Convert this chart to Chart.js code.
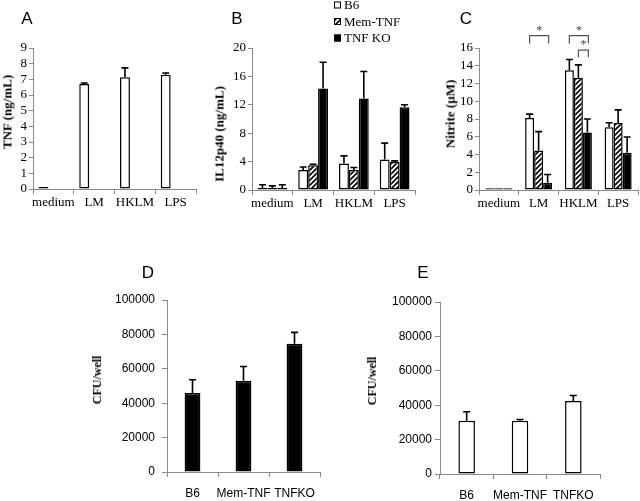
<!DOCTYPE html>
<html><head><meta charset="utf-8">
<script src="https://cdn.jsdelivr.net/npm/chart.js@4.4.0/dist/chart.umd.min.js"></script>
<style>
html,body{margin:0;padding:0;background:#fff;}
#wrap{position:relative;width:640px;height:501px;overflow:hidden;background:#fff;}
canvas{position:absolute;}
.letter{position:absolute;font-family:"Liberation Sans",Arial,sans-serif;font-size:17px;color:#000;transform:translate(-50%,-50%);line-height:1;}
.ytitle{position:absolute;font-family:"Liberation Serif","Times New Roman",serif;font-weight:bold;color:#000;white-space:nowrap;transform:translate(-50%,-50%) rotate(-90deg);line-height:1;}
</style></head><body>
<div id="wrap">
<canvas id="cA" width="205" height="250" style="left:0px;top:0px;"></canvas>
<canvas id="cB" width="215" height="250" style="left:205px;top:0px;"></canvas>
<canvas id="cC" width="220" height="250" style="left:420px;top:0px;"></canvas>
<canvas id="cD" width="270" height="246" style="left:60px;top:255px;"></canvas>
<canvas id="cE" width="300" height="246" style="left:340px;top:255px;"></canvas>
<div class="letter" style="left:27px;top:18px;">A</div>
<div class="letter" style="left:237px;top:18px;">B</div>
<div class="letter" style="left:466px;top:18px;">C</div>
<div class="letter" style="left:148px;top:272px;">D</div>
<div class="letter" style="left:423px;top:272px;">E</div>
<div class="ytitle" style="left:7px;top:112px;font-size:13px;">TNF (ng/mL)</div>
<div class="ytitle" style="left:219px;top:134px;font-size:13px;">IL12p40 (ng/mL)</div>
<div class="ytitle" style="left:450px;top:114px;font-size:13px;">Nitrite (µM)</div>
<div class="ytitle" style="left:97px;top:380px;font-size:12px;">CFU/well</div>
<div class="ytitle" style="left:372px;top:381px;font-size:12px;">CFU/well</div>
</div>
<script>
// ---------- data ----------
const categories = ['medium', 'LM', 'HKLM', 'LPS'];
const seriesNames = ['B6', 'Mem-TNF', 'TNF KO'];

// Panel A: TNF (ng/mL), B6 only
const tnfB6 = [0.12, 6.7, 7.13, 7.3];
const tnfB6Err = [0, 0.07, 0.6, 0.1];

// Panel B: IL12p40 (ng/mL)
const il12B6 = [0.28, 2.83, 3.73, 4.3];
const il12B6Err = [0.45, 0.4, 1.07, 2.3];
const il12Mem = [0.28, 3.49, 2.83, 3.96];
const il12MemErr = [0.3, 0.14, 0.33, 0.14];
const il12KO = [0.28, 14.3, 12.9, 11.65];
const il12KOErr = [0.45, 3.7, 3.8, 0.35];

// Panel C: Nitrite (uM)
const nitB6 = [0.2, 8.1, 13.5, 7.06];
const nitB6Err = [0, 0.45, 1.2, 0.52];
const nitMem = [0.2, 4.46, 12.64, 7.55];
const nitMemErr = [0, 2.12, 1.46, 1.48];
const nitKO = [0.2, 0.82, 6.47, 4.2];
const nitKOErr = [0, 0.93, 1.53, 1.78];
// significance brackets: category index, from series, to series, bracket level (uM)
const nitBrackets = [
  {cat: 1, from: 0, to: 2, level: 17.4, leg: 16.5},
  {cat: 2, from: 0, to: 2, level: 17.4, leg: 16.5},
  {cat: 2, from: 1, to: 2, level: 15.75, leg: 14.95}
];

// Panels D/E: CFU/well
const strains = ['B6', 'Mem-TNF', 'TNFKO'];
const cfuD = [46000, 53000, 74500];
const cfuDErr = [7600, 8300, 6700];
const cfuE = [31000, 31000, 42400];
const cfuEErr = [5200, 700, 3200];

// ---------- styles ----------
function hatch() {
  const c = document.createElement('canvas');
  c.width = 5; c.height = 5;
  const g = c.getContext('2d');
  g.fillStyle = '#fff'; g.fillRect(0, 0, 5, 5);
  g.strokeStyle = '#000'; g.lineWidth = 1.7;
  g.beginPath();
  g.moveTo(-1, 6); g.lineTo(6, -1);
  g.moveTo(-1, 1); g.lineTo(1, -1);
  g.moveTo(4, 6); g.lineTo(6, 4);
  g.stroke();
  return g.createPattern(c, 'repeat');
}
const HATCH = hatch();
const fills = ['#ffffff', HATCH, '#000000'];
const serif = "'Liberation Serif','Times New Roman',serif";
const sans = "'Liberation Sans',Arial,sans-serif";
const AXIS = '#8a8a8a';

const errorBars = {
  id: 'errorBars',
  afterDatasetsDraw(chart) {
    const ctx = chart.ctx, ys = chart.scales.y;
    chart.data.datasets.forEach((ds, i) => {
      if (!ds.errors) return;
      const meta = chart.getDatasetMeta(i);
      meta.data.forEach((bar, j) => {
        const v = ds.data[j], e = ds.errors[j];
        if (v == null || !e) return;
        const yt = ys.getPixelForValue(v + e);
        ctx.save();
        ctx.strokeStyle = '#000'; ctx.lineWidth = 1.6;
        ctx.beginPath();
        ctx.moveTo(bar.x, bar.y); ctx.lineTo(bar.x, yt);
        ctx.moveTo(bar.x - 3.5, yt); ctx.lineTo(bar.x + 3.5, yt);
        ctx.stroke();
        ctx.restore();
      });
    });
  }
};

const brackets = {
  id: 'brackets',
  afterDraw(chart, args, opts) {
    if (!opts.list) return;
    const ctx = chart.ctx, ys = chart.scales.y;
    opts.list.forEach(b => {
      const x1 = chart.getDatasetMeta(b.from).data[b.cat].x;
      const x2 = chart.getDatasetMeta(b.to).data[b.cat].x + 1;
      const yl = ys.getPixelForValue(b.level), yg = ys.getPixelForValue(b.leg);
      ctx.save();
      ctx.strokeStyle = '#555'; ctx.lineWidth = 1.2;
      ctx.beginPath();
      ctx.moveTo(x1, yg); ctx.lineTo(x1, yl); ctx.lineTo(x2, yl); ctx.lineTo(x2, yg);
      ctx.stroke();
      ctx.fillStyle = '#444'; ctx.font = '12px ' + serif;
      ctx.textAlign = 'center'; ctx.textBaseline = 'alphabetic';
      ctx.fillText('*', (x1 + x2) / 2, yl - 2);
      ctx.restore();
    });
  }
};

const sideLegend = {
  id: 'sideLegend',
  afterDraw(chart, args, opts) {
    if (!opts.show) return;
    const ctx = chart.ctx;
    chart.data.datasets.forEach((ds, i) => {
      const y = opts.y0 + i * opts.dy;
      ctx.save();
      ctx.fillStyle = ds.backgroundColor;
      ctx.fillRect(opts.x, y - 3.5, 7, 7);
      ctx.strokeStyle = '#000'; ctx.lineWidth = 1;
      ctx.strokeRect(opts.x + 0.5, y - 3, 6, 6);
      ctx.fillStyle = '#000'; ctx.font = '13px ' + serif;
      ctx.textAlign = 'left'; ctx.textBaseline = 'middle';
      ctx.fillText(ds.label, opts.x + 10, y + 1);
      ctx.restore();
    });
  }
};

function makeChart(id, g, labels, datasets, yo, tickFont, extra) {
  return new Chart(document.getElementById(id), {
    type: 'bar',
    data: {labels: labels, datasets: datasets},
    plugins: [errorBars, brackets, sideLegend],
    options: {
      responsive: false, animation: false, devicePixelRatio: 1,
      layout: {padding: {top: g.top, right: g.right, bottom: g.bottom, left: 0}},
      datasets: {bar: {categoryPercentage: g.cat, barPercentage: 1, borderColor: '#000', borderWidth: 1.5, borderSkipped: false}},
      plugins: Object.assign({legend: {display: false}, tooltip: {enabled: false}}, extra || {}),
      scales: {
        x: {
          grid: {display: true, offset: true, drawOnChartArea: false, drawTicks: true, tickLength: 5, color: AXIS, lineWidth: 1},
          border: {display: true, color: AXIS, width: 1},
          ticks: {font: tickFont, color: '#000', padding: g.xpad, maxRotation: 0, autoSkip: false},
          afterFit(s) { s.height = g.xh; }
        },
        y: {
          min: 0, max: yo.max,
          grid: {display: true, drawOnChartArea: false, drawTicks: true, tickLength: g.ytl, color: AXIS},
          border: {display: true, color: AXIS, width: 1},
          ticks: {stepSize: yo.step, font: tickFont, color: '#000', padding: g.ypad, autoSkip: false,
                  callback: v => String(v)},
          afterFit(s) { s.width = g.yw; }
        }
      }
    }
  });
}

const serifTick = {family: serif, size: 13};
const sansTick = {family: sans, size: 12};

function triple(vals, errs) {
  return seriesNames.map((n, i) => ({label: n, data: vals[i], errors: errs[i], backgroundColor: fills[i]}));
}

// A
makeChart('cA', {top: 48, right: 9, bottom: 31, xh: 30, yw: 33, cat: 0.73, xpad: 1, ytl: 4, ypad: 2},
  categories, triple([tnfB6, [null, null, null, null], [null, null, null, null]], [tnfB6Err, null, null]),
  {max: 9, step: 1}, serifTick);

// B
makeChart('cB', {top: 48, right: 5, bottom: 30, xh: 30, yw: 47, cat: 0.73, xpad: 1, ytl: 4, ypad: 2},
  categories, triple([il12B6, il12Mem, il12KO], [il12B6Err, il12MemErr, il12KOErr]),
  {max: 20, step: 4}, serifTick, {sideLegend: {show: true, x: 129, y0: 5, dy: 16.5}});

// C
makeChart('cC', {top: 48, right: 2, bottom: 30, xh: 30, yw: 59, cat: 0.68, xpad: 1, ytl: 4, ypad: 2},
  categories, triple([nitB6, nitMem, nitKO], [nitB6Err, nitMemErr, nitKOErr]),
  {max: 16, step: 2}, serifTick, {brackets: {list: nitBrackets}});

// D
makeChart('cD', {top: 45, right: 10, bottom: 0, xh: 29, yw: 107, cat: 0.31, xpad: 9, ytl: 5, ypad: 7},
  strains, [{label: 'CFU', data: cfuD, errors: cfuDErr, backgroundColor: '#000'}],
  {max: 100000, step: 20000}, sansTick);

// E
makeChart('cE', {top: 47, right: 40, bottom: 0, xh: 27, yw: 100, cat: 0.31, xpad: 9, ytl: 5, ypad: 3},
  strains, [{label: 'CFU', data: cfuE, errors: cfuEErr, backgroundColor: '#fff'}],
  {max: 100000, step: 20000}, sansTick);
</script>
</body></html>
